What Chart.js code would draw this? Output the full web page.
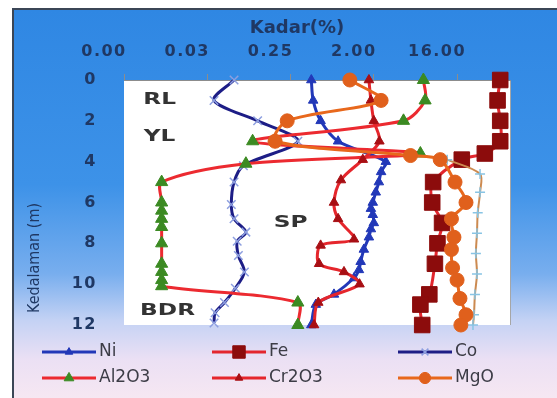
<!DOCTYPE html>
<html lang="id">

<head>
    <meta charset="UTF-8" />
    <title>Kadar vs Kedalaman</title>
    <script src="https://cdn.jsdelivr.net/npm/chart.js"></script>
    <style>
        html, body { margin: 0; padding: 0; background: #fff; }
        #bingkai {
            position: absolute; left: 12px; top: 8px; width: 545px; height: 390px;
            box-sizing: border-box;
            border-left: 2px solid #3b4656; border-top: 2px solid #3b4656;
            background: linear-gradient(to bottom, #2f87e3 0%, #3d92e8 45%, #78aeee 68%, #c4d2f4 80%, #ebe0f4 90%, #f6e7f2 100%);
        }
        #grafik { position: absolute; left: 0; top: 0; }
    </style>
</head>

<body>
    <div id="bingkai"></div>
    <canvas id="grafik" width="557" height="398"></canvas>

    <script>
        // Data profil bor: kedalaman (m) dan kadar (%)
        const niKedalaman = [0, 1, 2, 3, 4, 4.5, 5, 5.5, 6, 6.3, 6.6, 7, 7.3, 7.7, 8.3, 8.9, 9.3, 9.7, 10.5, 11, 12];
        const niKadar = [0.42, 0.44, 0.53, 0.82, 2.7, 2.4, 2.27, 2.1, 1.95, 1.86, 1.95, 2.0, 1.86, 1.77, 1.56, 1.44, 1.38, 1.22, 0.74, 0.47, 0.42];

        const feKedalaman = [0, 1, 2, 3, 3.6, 3.9, 5, 6, 7, 8, 9, 10.5, 11, 12];
        const feKadar = [47, 44, 47, 47, 32, 18, 8.8, 8.6, 11, 9.8, 9.2, 8, 6.4, 6.7];

        const coKedalaman = [0, 1, 2, 3, 4.2, 5, 6.1, 6.8, 7.45, 7.9, 8.6, 9.4, 10.2, 10.9, 11.4, 11.9];
        const coKadar = [0.061, 0.037, 0.11, 0.30, 0.077, 0.061, 0.057, 0.061, 0.082, 0.066, 0.068, 0.079, 0.063, 0.048, 0.038, 0.037];

        const alKedalaman = [0, 1, 2, 3, 3.6, 4.1, 5, 6, 6.4, 6.8, 7.2, 8, 9, 9.4, 9.8, 10.1, 10.9, 12];
        const alKadar = [6.9, 7.2, 4.2, 0.097, 6.4, 0.082, 0.01, 0.01, 0.01, 0.01, 0.01, 0.01, 0.01, 0.01, 0.01, 0.01, 0.30, 0.30];

        const crKedalaman = [0, 1, 2, 3, 3.9, 4.9, 6, 6.8, 7.8, 8.1, 9, 9.4, 10, 10.9, 12];
        const crKadar = [1.77, 1.86, 2.0, 2.3, 1.52, 0.88, 0.74, 0.82, 1.22, 0.53, 0.51, 0.95, 1.4, 0.5, 0.45];

        const mgKedalaman = [0, 1, 2, 3, 3.7, 3.9, 5, 6, 6.8, 7.7, 8.3, 9.2, 9.8, 10.7, 11.5, 12];
        const mgKadar = [1.1, 2.4, 0.23, 0.17, 5.0, 10.5, 15.2, 20, 13.9, 14.8, 13.9, 14.3, 16, 17.2, 20, 17.6];

        // garis tambahan tanpa nama di legenda
        const lainKedalaman = [3.9, 4.6, 5.5, 6.5, 7.5, 8.5, 9.5, 10.5, 11.5, 12];
        const lainKadar = [12.5, 28.4, 28.4, 26.8, 26.3, 25.6, 26.3, 25, 24.4, 23.8];

        const xTickNilai = [1 / 256, 1 / 32, 1 / 4, 2, 16];

        const zonaNama = ['RL', 'YL', 'SP', 'BDR'];
        const zonaKadar = [0.0095, 0.0095, 0.25, 0.0116];
        const zonaKedalaman = [1.0, 2.8, 7.0, 11.3];

        // posisi legenda (piksel)
        const legendaPosisi = [[42, 352], [212, 352], [398, 352], [42, 378], [212, 378], [398, 378]];

        function titik(kedalaman, kadar) {
            return kedalaman.map((d, i) => ({ x: kadar[i], y: d }));
        }

        function seri(label, kedalaman, kadar, garis, penanda, bentuk, r, urutan, lebarPenanda) {
            return {
                label,
                data: titik(kedalaman, kadar),
                showLine: true,
                borderColor: garis,
                borderWidth: 3,
                pointStyle: bentuk,
                pointRadius: r,
                pointBackgroundColor: penanda,
                pointBorderColor: penanda,
                pointBorderWidth: lebarPenanda || 1,
                tension: 0.3,
                clip: false,
                order: urutan
            };
        }

        const datasets = [
            seri('Ni', niKedalaman, niKadar, '#2238b8', '#2238b8', 'triangle', 5.5, 7),
            seri('Fe', feKedalaman, feKadar, '#e3262e', '#8c0c0c', 'rect', 11, 6),
            seri('Co', coKedalaman, coKadar, '#1d1d86', '#8d9fe0', 'crossRot', 6, 5, 1.5),
            seri('Al2O3', alKedalaman, alKadar, '#ec2a30', '#3b8a22', 'triangle', 7, 4),
            seri('Cr2O3', crKedalaman, crKadar, '#e5262c', '#a80f14', 'triangle', 5.5, 3),
            seri('MgO', mgKedalaman, mgKadar, '#e8681c', '#e0601c', 'circle', 7, 1),
            seri('', lainKedalaman, lainKadar, '#cc8a50', '#88c4e4', 'cross', 5, 2, 1.5)
        ];
        datasets[6].borderWidth = 2;

        function tulisLebar(ctx, teks, x, y, skala) {
            ctx.save();
            ctx.translate(x, y);
            ctx.scale(skala, 1);
            ctx.fillText(teks, 0, 0);
            ctx.restore();
        }

        // latar putih area plot
        const latarPlot = {
            id: 'latarPlot',
            beforeDraw(chart) {
                const { ctx, chartArea: a } = chart;
                ctx.save();
                ctx.fillStyle = '#ffffff';
                ctx.fillRect(a.left, a.top, a.right - a.left, a.bottom - a.top);
                ctx.strokeStyle = '#a6a6a6';
                ctx.lineWidth = 1;
                ctx.beginPath();
                ctx.moveTo(a.right + 0.5, a.top);
                ctx.lineTo(a.right + 0.5, a.bottom);
                ctx.stroke();
                ctx.restore();
                // angka sumbu sedikit renggang seperti gambar asli
                ctx.letterSpacing = '1.5px';
            },
            afterDatasetsDraw(chart) {
                chart.ctx.letterSpacing = '0px';
            }
        };

        // judul sumbu, label zona, legenda
        const teksTambahan = {
            id: 'teksTambahan',
            afterDraw(chart) {
                const ctx = chart.ctx;
                const sx = chart.scales.x, sy = chart.scales.y;
                ctx.save();
                ctx.letterSpacing = '0px';

                ctx.fillStyle = '#1f3864';
                ctx.textAlign = 'center';
                ctx.textBaseline = 'middle';
                ctx.font = 'bold 18px "DejaVu Sans"';
                ctx.fillText('Kadar(%)', 297, 28);

                ctx.save();
                ctx.translate(35, 313);
                ctx.rotate(-Math.PI / 2);
                ctx.textAlign = 'left';
                ctx.font = '16px "DejaVu Sans Condensed", "Liberation Sans Narrow", sans-serif';
                ctx.fillText('Kedalaman (m)', 0, 0);
                ctx.restore();

                ctx.fillStyle = '#333333';
                ctx.font = 'bold 15px "DejaVu Sans"';
                zonaNama.forEach((nama, i) => {
                    tulisLebar(ctx, nama, sx.getPixelForValue(zonaKadar[i]), sy.getPixelForValue(zonaKedalaman[i]), 1.55);
                });

                ctx.textAlign = 'left';
                ctx.font = '17px "DejaVu Sans"';
                legendaPosisi.forEach((p, i) => {
                    const ds = chart.data.datasets[i];
                    ctx.strokeStyle = ds.borderColor;
                    ctx.lineWidth = ds.borderWidth;
                    ctx.beginPath();
                    ctx.moveTo(p[0], p[1]);
                    ctx.lineTo(p[0] + 54, p[1]);
                    ctx.stroke();
                    ctx.fillStyle = ds.pointBackgroundColor;
                    ctx.strokeStyle = ds.pointBorderColor;
                    ctx.lineWidth = ds.pointBorderWidth;
                    Chart.helpers.drawPoint(ctx, {
                        pointStyle: ds.pointStyle,
                        radius: ds.pointRadius * 0.8,
                        rotation: 0,
                        borderWidth: ds.pointBorderWidth
                    }, p[0] + 27, p[1]);
                    ctx.fillStyle = '#3c3c46';
                    ctx.fillText(ds.label, p[0] + 57, p[1]);
                });
                ctx.restore();
            }
        };

        new Chart(document.getElementById('grafik'), {
            type: 'scatter',
            data: { datasets },
            plugins: [latarPlot, teksTambahan],
            options: {
                responsive: false,
                animation: false,
                devicePixelRatio: 1,
                layout: { padding: { left: 14, top: 8, right: 47, bottom: 73 } },
                plugins: {
                    legend: { display: false },
                    tooltip: { enabled: false }
                },
                scales: {
                    x: {
                        type: 'logarithmic',
                        position: 'top',
                        min: xTickNilai[0],
                        max: 60,
                        afterBuildTicks: s => { s.ticks = xTickNilai.map(v => ({ value: v })); },
                        afterFit: s => { s.height = 72; s.paddingLeft = 0; s.paddingRight = 0; },
                        ticks: {
                            callback: v => Number(v).toFixed(2),
                            color: '#1f3864',
                            font: { family: 'DejaVu Sans', size: 16, weight: 'bold' },
                            padding: 13,
                            labelOffset: -20,
                            maxRotation: 0,
                            autoSkip: false
                        },
                        grid: { drawOnChartArea: false, tickLength: 6, color: '#8c8c8c' },
                        border: { color: '#8c8c8c' }
                    },
                    y: {
                        type: 'linear',
                        reverse: true,
                        min: 0,
                        max: 12,
                        afterFit: s => { s.width = 110; s.paddingTop = 0; s.paddingBottom = 0; },
                        ticks: {
                            stepSize: 2,
                            color: '#1f3864',
                            font: { family: 'DejaVu Sans', size: 16, weight: 'bold' },
                            padding: 27
                        },
                        grid: { display: false, drawTicks: false },
                        border: { display: false }
                    }
                }
            }
        });
    </script>
</body>

</html>
